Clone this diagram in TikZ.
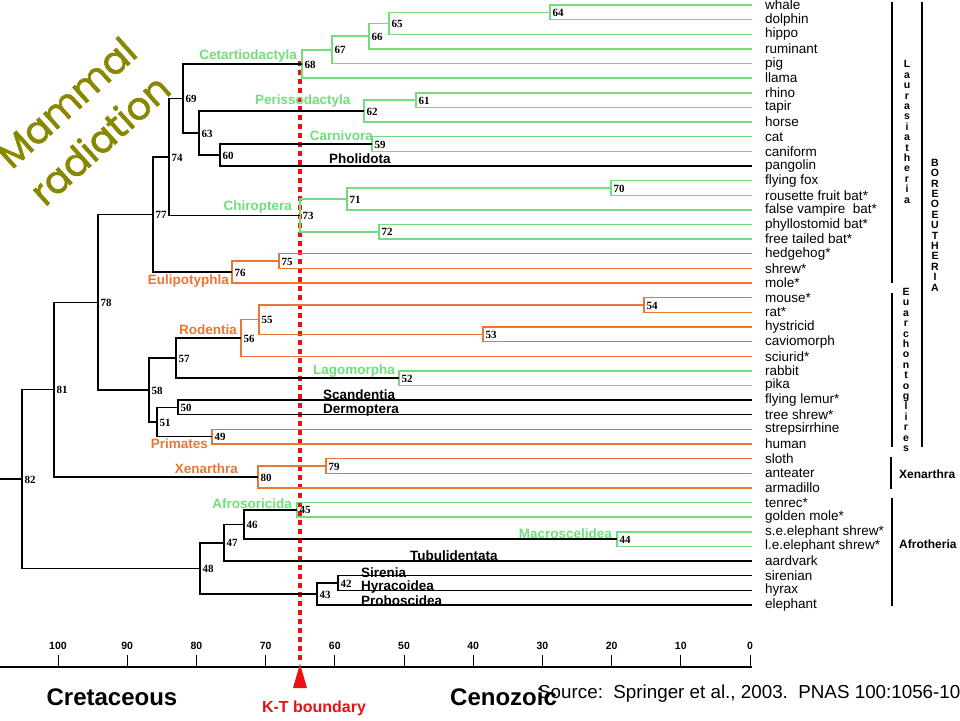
\documentclass[tikz,border=0pt]{standalone}
\usepackage{fontspec}
\setmainfont{Liberation Sans}
\newfontfamily\numfont{Liberation Serif}
\newfontfamily\titlefont{Poppins}[FakeBold=1.6]
\definecolor{grn}{RGB}{112,222,122}
\definecolor{org}{RGB}{234,118,52}
\definecolor{oliv}{RGB}{136,136,0}
\definecolor{ktred}{RGB}{232,18,18}
\tikzset{
	branch/.style={line width=1.4pt},
	num/.style={font=\numfont\bfseries\fontsize{11}{11}\selectfont, anchor=west,
		inner sep=0pt, xshift=2.5pt, yshift=-0.5pt},
	leaf/.style={font=\fontsize{13.5}{13.5}\selectfont, anchor=west, inner sep=0pt, xshift=13pt},
	grp/.style={font=\bfseries\fontsize{13.5}{13.5}\selectfont, inner sep=0pt},
	vword/.style={font=\bfseries\fontsize{10.5}{10.4}\selectfont, align=center, inner sep=0pt},
	bracket/.style={line width=2pt},
	tick/.style={font=\bfseries\fontsize{10.5}{10.5}\selectfont, inner sep=0pt, yshift=5pt}
}
% clade: number, x, first child, second child, colour
\newcommand{\clade}[5]{%
	\path (#3) -- (#4) coordinate[pos=.5] (m#1);
	\coordinate (n#1) at (#2,0 |- m#1);
	\draw[branch,#5] (#3) -| (n#1) |- (#4);
	\node[num] (lbl#1) at (n#1) {#1};
}

\begin{document}
\begin{tikzpicture}[x=1pt, y=-1pt]
	\useasboundingbox (0,0) rectangle (960,720);
	% leaves
	\foreach \nm/\txt [count=\i from 0] in {whale/whale, dolphin/dolphin, hippo/hippo,
		ruminant/ruminant, pig/pig, llama/llama, rhino/rhino, tapir/tapir, horse/horse,
		cat/cat, caniform/caniform, pangolin/pangolin, flyfox/flying fox,
		rousette/rousette fruit bat*, vampire/false vampire\ \ bat*, phyllo/phyllostomid bat*,
		freetail/free tailed bat*, hedgehog/hedgehog*, shrew/shrew*, mole/mole*,
		mouse/mouse*, rat/rat*, hystricid/hystricid, cavio/caviomorph, sciurid/sciurid*,
		rabbit/rabbit, pika/pika, flylemur/flying lemur*, treeshrew/tree shrew*,
		strep/strepsirrhine, human/human, sloth/sloth, anteater/anteater,
		armadillo/armadillo, tenrec/tenrec*, goldmole/golden mole*,
		seshrew/s.e.elephant shrew*, leshrew/l.e.elephant shrew*, aardvark/aardvark,
		sirenian/sirenian, hyrax/hyrax, elephant/elephant}{
		\coordinate (\nm) at (752,{5+14.634*\i});
		\node[leaf] (t\nm) at (\nm) {\txt};
	}

	% K-T boundary
	\coordinate (kttop) at (300,61);
	\coordinate (ktbot) at (300,664);
	\draw[ktred, line width=4pt, dash pattern=on 5pt off 4pt] (kttop) -- (ktbot);

	% Laurasiatheria
	\clade{64}{550}{whale}{dolphin}{grn}
	\clade{65}{389}{n64}{hippo}{grn}
	\clade{66}{369}{n65}{ruminant}{grn}
	\clade{67}{332}{n66}{pig}{grn}
	\clade{68}{302}{n67}{llama}{grn}
	\clade{61}{416}{rhino}{tapir}{grn}
	\clade{62}{364}{n61}{horse}{grn}
	\clade{59}{372}{cat}{caniform}{grn}
	\clade{60}{220}{n59}{pangolin}{black}
	\clade{63}{199}{n62}{n60}{black}
	\clade{69}{183}{n68}{n63}{black}
	\clade{70}{611}{flyfox}{rousette}{grn}
	\clade{71}{347}{n70}{vampire}{grn}
	\clade{72}{379}{phyllo}{freetail}{grn}
	\clade{73}{300}{n71}{n72}{grn}
	\clade{74}{169}{n69}{n73}{black}
	\clade{75}{279}{hedgehog}{shrew}{org}
	\clade{76}{232}{n75}{mole}{org}
	\clade{77}{153}{n74}{n76}{black}
	% Euarchontoglires
	\clade{54}{644}{mouse}{rat}{org}
	\clade{53}{483}{hystricid}{cavio}{org}
	\clade{55}{259}{n54}{n53}{org}
	\clade{56}{241}{n55}{sciurid}{org}
	\clade{52}{399}{rabbit}{pika}{grn}
	\clade{57}{176}{n56}{n52}{black}
	\clade{50}{178}{flylemur}{treeshrew}{black}
	\clade{49}{212}{strep}{human}{org}
	\clade{51}{157}{n50}{n49}{black}
	\clade{58}{149}{n57}{n51}{black}
	\clade{78}{98}{n77}{n58}{black}
	% Xenarthra
	\clade{79}{326}{sloth}{anteater}{org}
	\clade{80}{258}{n79}{armadillo}{org}
	\clade{81}{54}{n78}{n80}{black}
	% Afrotheria
	\clade{45}{297}{tenrec}{goldmole}{grn}
	\clade{44}{617}{seshrew}{leshrew}{grn}
	\clade{46}{244}{n45}{n44}{black}
	\clade{47}{224}{n46}{aardvark}{black}
	\clade{42}{338}{sirenian}{hyrax}{black}
	\clade{43}{317}{n42}{elephant}{black}
	\clade{48}{200}{n47}{n43}{black}
	\clade{82}{22}{n81}{n48}{black}
	\coordinate (root) at (0,0 |- n82);
	\draw[branch] (root) -- (n82);

	% order names
	\node[grp, grn, anchor=east] (cetart) at (297,56) {Cetartiodactyla};
	\node[grp, grn, anchor=west] (periss) at (255,101) {Perissodactyla};
	\node[grp, grn, anchor=east] (carniv) at (373,136) {Carnivora};
	\node[grp, anchor=west] (pholid) at (329,159) {Pholidota};
	\node[grp, grn, anchor=east] (chirop) at (292,207) {Chiroptera};
	\node[grp, org, anchor=east] (eulipo) at (229,281) {Eulipotyphla};
	\node[grp, org, anchor=east] (rodent) at (237,330) {Rodentia};
	\node[grp, grn, anchor=west] (lagomo) at (313,371) {Lagomorpha};
	\node[grp, anchor=west] (scande) at (323,395) {Scandentia};
	\node[grp, anchor=west] (dermop) at (323,410) {Dermoptera};
	\node[grp, org, anchor=east] (primat) at (208,444) {Primates};
	\node[grp, org, anchor=east] (xenart) at (238,469) {Xenarthra};
	\node[grp, grn, anchor=east] (afroso) at (292,504) {Afrosoricida};
	\node[grp, grn, anchor=east] (macros) at (612,534) {Macroscelidea};
	\node[grp, anchor=west] (tubuli) at (410,556) {Tubulidentata};
	\node[grp, anchor=west] (sireni) at (361,573) {Sirenia};
	\node[grp, anchor=west] (hyraco) at (361,587) {Hyracoidea};
	\node[grp, anchor=west] (probos) at (361,601) {Proboscidea};

	% superorders
	\draw[bracket] (892,2) -- (892,283);
	\draw[bracket] (922,2) -- (922,447);
	\draw[bracket] (892,293) -- (892,447);
	\draw[bracket] (891,457) -- (891,489);
	\draw[bracket] (892,498) -- (892,606);
	\node[vword] (laur) at (907,132) {L\\a\\u\\r\\a\\s\\i\\a\\t\\h\\e\\r\\i\\a};
	\node[vword] (boreo) at (935,225) {B\\O\\R\\E\\O\\E\\U\\T\\H\\E\\R\\I\\A};
	\node[vword] (euarch) at (906,370) {E\\u\\a\\r\\c\\h\\o\\n\\t\\o\\g\\l\\i\\r\\e\\s};
	\node[grp, font=\bfseries\fontsize{12}{12}\selectfont, anchor=west] (xenlab) at (899,474) {Xenarthra};
	\node[grp, font=\bfseries\fontsize{12}{12}\selectfont, anchor=west] (afrlab) at (899,544) {Afrotheria};

	% time axis
	\coordinate (axl) at (0,667);
	\coordinate (axr) at (752,667);
	\draw[line width=1.2pt] (axl) -- (axr);
	\foreach \t in {0,10,...,100}
		\draw[line width=1pt] ({750-6.92*\t},667) -- ++(0,-12) node[tick, anchor=south] (tk\t) {\t};
	\fill[ktred] (ktbot) -- (293,688) -- (307,688) -- cycle;
	\node[font=\bfseries\fontsize{24}{24}\selectfont, inner sep=0pt] (cret) at (112,697) {Cretaceous};
	\node[font=\bfseries\fontsize{24}{24}\selectfont, inner sep=0pt, anchor=west] (ceno) at (450,697) {Cenozoic};
	\node[ktred, font=\bfseries\fontsize{16}{16}\selectfont, inner sep=0pt] (ktlab) at (314,708) {K-T boundary};
	\node[font=\fontsize{18.8}{18.8}\selectfont, inner sep=0pt, anchor=west] (source) at (538,694)
		{Source:\ \ Springer et al., 2003.\ \ PNAS 100:1056-10};

	\node[oliv, rotate=42, align=center, font=\titlefont\fontsize{38}{50}\selectfont] (title)
		at (83,121) {Mammal\\radiation};
\end{tikzpicture}
\end{document}
